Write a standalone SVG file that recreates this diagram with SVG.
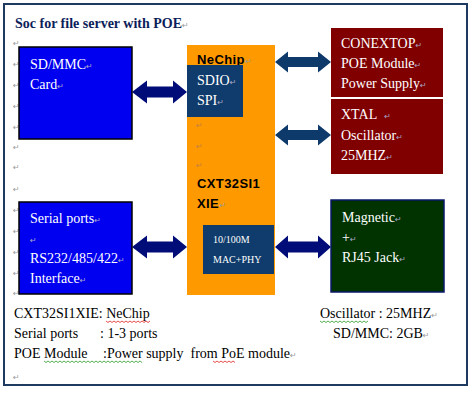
<svg xmlns="http://www.w3.org/2000/svg" width="475" height="400" viewBox="0 0 475 400">
<defs>
<style>
.t{font-family:"Liberation Serif","Times New Roman",serif;font-size:14px;fill:#000}
.w{font-family:"Liberation Serif","Times New Roman",serif;font-size:14px;fill:#fff}
.s{font-family:"Liberation Serif","Times New Roman",serif;font-size:10px;fill:#fff}
.b{font-family:"Liberation Sans",Arial,sans-serif;font-size:13px;font-weight:bold;fill:#000;letter-spacing:0.4px}
.pm{font-family:"DejaVu Sans",sans-serif;font-size:8px;fill:#9a9a9a;font-weight:normal;letter-spacing:0}
.pmw{font-family:"DejaVu Sans",sans-serif;font-size:8px;fill:#a8a8c8;font-weight:normal;letter-spacing:0}
.navy{fill:#000c78}
.steel{fill:#0d3a6a}
.sqr{fill:none;stroke:#e02020;stroke-width:0.8}
.sqg{fill:none;stroke:#2a9a2a;stroke-width:0.8}
</style>
</defs>
<rect x="0" y="0" width="475" height="400" fill="#fff"/>
<rect x="4" y="4" width="463" height="381" fill="#fff" stroke="#1f3a60" stroke-width="2"/>
<text x="15" y="28" class="t" font-weight="bold" style="fill:#0d1e5a">Soc for file server with POE<tspan class="pm">↵</tspan></text>

<g id="margin-marks" class="pm">
<text x="13" y="46" class="pm">↵</text><text x="13" y="67" class="pm">↵</text><text x="13" y="88" class="pm">↵</text><text x="13" y="109" class="pm">↵</text><text x="13" y="130" class="pm">↵</text><text x="13" y="150" class="pm">↵</text><text x="13" y="170" class="pm">↵</text><text x="13" y="192" class="pm">↵</text><text x="13" y="213" class="pm">↵</text><text x="13" y="234" class="pm">↵</text><text x="13" y="255" class="pm">↵</text><text x="13" y="276" class="pm">↵</text><text x="13" y="296" class="pm">↵</text><text x="13" y="380" class="pm">↵</text>
</g>

<g id="connectors">
<polygon class="navy" points="132,92 147,80.5 147,86.5 173,86.5 173,80.5 187,92 173,103.5 173,97.5 147,97.5 147,103.5"/>
<polygon class="navy" points="132,247 147,235.5 147,241.5 173,241.5 173,235.5 187,247 173,258.5 173,252.5 147,252.5 147,258.5"/>
<polygon class="steel" points="275,62 288,51.5 288,57 318,57 318,51.5 331,62 318,72.5 318,67 288,67 288,72.5"/>
<polygon class="steel" points="275,135 288,124.5 288,130 318,130 318,124.5 331,135 318,145.5 318,140 288,140 288,145.5"/>
<polygon class="navy" points="275,247 288,235.5 288,241.5 318,241.5 318,235.5 331,247 318,258.5 318,252.5 288,252.5 288,258.5"/>
</g>

<g id="sdmmc">
<rect x="19" y="47" width="113" height="92" fill="#0000f0" stroke="#000" stroke-width="1.5"/>
<text x="30" y="69" class="w">SD/MMC<tspan class="pmw">↵</tspan></text>
<text x="30" y="89" class="w">Card<tspan class="pmw">↵</tspan></text>
</g>

<g id="serial">
<rect x="19" y="202" width="113" height="92" fill="#0000f0" stroke="#000" stroke-width="1.5"/>
<text x="30" y="223" class="w">Serial ports<tspan class="pmw">↵</tspan></text>
<text x="30" y="243" class="pmw">↵</text>
<text x="30" y="263" class="w">RS232/485/422<tspan class="pmw">↵</tspan></text>
<text x="30" y="283" class="w">Interface<tspan class="pmw">↵</tspan></text>
</g>

<g id="nechip">
<rect x="187" y="45" width="88" height="250" fill="#ff9900"/>
<text x="197" y="64" class="b">NeChip<tspan class="pm">↵</tspan></text>
<text x="197" y="188" class="b">CXT32SI1</text>
<text x="197" y="208" class="b">XIE<tspan class="pm">↵</tspan></text>
<text x="196" y="128" class="pm" style="fill:#c08040">↵</text>
<text x="196" y="149" class="pm" style="fill:#c08040">↵</text>
<text x="196" y="168" class="pm" style="fill:#c08040">↵</text>
</g>

<g id="sdio-spi">
<rect x="187" y="65" width="56" height="52" fill="#0f3c6c"/>
<text x="197" y="85" class="w">SDIO<tspan class="pmw">↵</tspan></text>
<text x="197" y="105" class="w">SPI<tspan class="pmw">↵</tspan></text>
</g>

<g id="mac-phy">
<rect x="203" y="225" width="71" height="49" fill="#0f3c6c"/>
<text x="213" y="243" class="s">10/100M</text>
<text x="213" y="263" class="s">MAC+PHY</text>
</g>

<g id="conextop">
<rect x="331" y="28" width="112" height="69" fill="#800000"/>
<text x="341" y="48" class="w">CONEXTOP<tspan class="pmw">↵</tspan></text>
<text x="341" y="68" class="w">POE Module<tspan class="pmw">↵</tspan></text>
<text x="341" y="88" class="w">Power Supply<tspan class="pmw">↵</tspan></text>
</g>

<g id="xtal">
<rect x="331" y="99" width="112" height="75" fill="#800000"/>
<text x="341" y="119" class="w">XTAL&#160; <tspan class="pmw">↵</tspan></text>
<text x="341" y="140" class="w">Oscillator<tspan class="pmw">↵</tspan></text>
<text x="341" y="160" class="w">25MHZ<tspan class="pmw">↵</tspan></text>
</g>

<g id="magnetic">
<rect x="331" y="200" width="113" height="92" fill="#003300" stroke="#0a1a6a" stroke-width="1.5"/>
<text x="342" y="222" class="w">Magnetic<tspan class="pmw">↵</tspan></text>
<text x="342" y="242" class="w">+<tspan class="pmw">↵</tspan></text>
<text x="342" y="262" class="w">RJ45 Jack<tspan class="pmw">↵</tspan></text>
</g>

<g id="notes">
<text x="14" y="318" class="t">CXT32SI1XIE: NeChip</text>
<text x="14" y="338" class="t">Serial ports</text>
<text x="100" y="338" class="t">: 1-3 ports</text>
<text x="14" y="358" class="t">POE Module</text>
<text x="103" y="358" class="t">:Power supply&#160; from PoE module<tspan class="pm">↵</tspan></text>
<text x="320" y="318" class="t">Oscillator : 25MHZ<tspan class="pm">↵</tspan></text>
<text x="333" y="338" class="t">SD/MMC: 2GB<tspan class="pm">↵</tspan></text>
<path class="sqr" d="M106,321 l2,1.5 l2,-1.5 l2,1.5 l2,-1.5 l2,1.5 l2,-1.5 l2,1.5 l2,-1.5 l2,1.5 l2,-1.5 l2,1.5 l2,-1.5 l2,1.5 l2,-1.5 l2,1.5 l2,-1.5 l2,1.5 l2,-1.5 l2,1.5 l2,-1.5 l2,1.5 l2,-1.5"/>
<path class="sqg" d="M320,321 l2,1.5 l2,-1.5 l2,1.5 l2,-1.5 l2,1.5 l2,-1.5 l2,1.5 l2,-1.5 l2,1.5 l2,-1.5 l2,1.5 l2,-1.5 l2,1.5 l2,-1.5 l2,1.5 l2,-1.5 l2,1.5 l2,-1.5 l2,1.5 l2,-1.5 l2,1.5 l2,-1.5 l2,1.5 l2,-1.5"/>
<path class="sqg" d="M44,361 l2,1.5 l2,-1.5 l2,1.5 l2,-1.5 l2,1.5 l2,-1.5 l2,1.5 l2,-1.5 l2,1.5 l2,-1.5 l2,1.5 l2,-1.5 l2,1.5 l2,-1.5 l2,1.5 l2,-1.5 l2,1.5 l2,-1.5 l2,1.5 l2,-1.5 l2,1.5 l2,-1.5 l2,1.5 l2,-1.5 l2,1.5 l2,-1.5 l2,1.5 l2,-1.5 l2,1.5 l2,-1.5 l2,1.5 l2,-1.5 l2,1.5 l2,-1.5 l2,1.5 l2,-1.5 l2,1.5 l2,-1.5 l2,1.5 l2,-1.5 l2,1.5 l2,-1.5 l2,1.5 l2,-1.5 l2,1.5 l2,-1.5 l2,1.5 l2,-1.5 l2,1.5"/>
<path class="sqr" d="M213,361 l2,1.5 l2,-1.5 l2,1.5 l2,-1.5 l2,1.5 l2,-1.5 l2,1.5 l2,-1.5 l2,1.5 l2,-1.5 l2,1.5"/>
</g>
</svg>
